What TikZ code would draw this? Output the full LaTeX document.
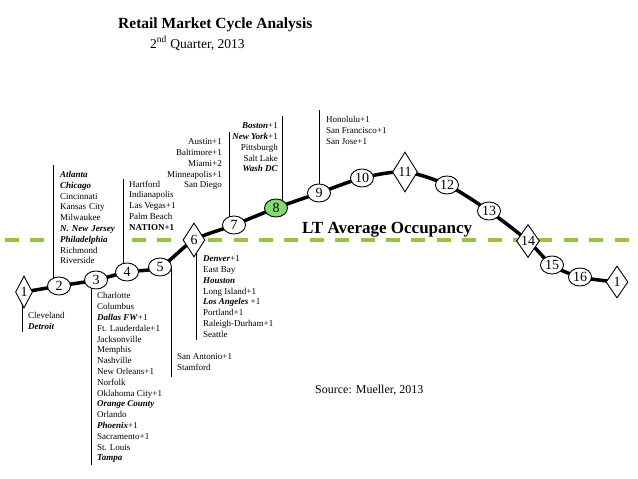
\documentclass[tikz,border=0pt]{standalone}
\usepackage{fontspec}
\setmainfont{Liberation Serif}
\usetikzlibrary{shapes.geometric,backgrounds}
\definecolor{occgreen}{RGB}{150,196,58}
\definecolor{hotgreen}{RGB}{130,218,112}
\newcommand\bicity[1]{\textbf{\textit{#1}}}
\tikzset{
  stage/.style={ellipse,draw=black,line width=0.9pt,fill=white,minimum width=23pt,minimum height=18pt,inner sep=-3pt,font=\fontsize{14}{14}\selectfont},
  turn/.style={diamond,draw=black,line width=0.9pt,fill=white,inner sep=-3pt,font=\fontsize{14}{14}\selectfont},
  city/.style={font=\fontsize{9}{10.8}\selectfont,inner sep=0pt,align=left},
  cityr/.style={font=\fontsize{9}{10.8}\selectfont,inner sep=0pt,align=right},
  leader/.style={line width=0.8pt,black},
  cycle/.style={line width=3.5pt,black},
  occline/.style={line width=4pt,occgreen,dash pattern=on 14pt off 11.4pt}
}
\begin{document}
\begin{tikzpicture}[x=1pt,y=-1pt]
\useasboundingbox (0,0) rectangle (638,479);
% titles
\node[anchor=base west,inner sep=0pt,font=\fontsize{15.5}{18}\selectfont\bfseries] (title) at (118,28.3) {Retail Market Cycle Analysis};
\node[anchor=base west,inner sep=0pt,font=\fontsize{13.5}{16}\selectfont] (quarter) at (150,48) {2\textsuperscript{nd} Quarter, 2013};
\node[anchor=base west,inner sep=0pt,font=\fontsize{17}{20}\selectfont\bfseries] (lt) at (302,233) {LT Average Occupancy};
\node[anchor=base west,inner sep=0pt,font=\fontsize{12}{14}\selectfont] (src) at (315,393) {Source: Mueller, 2013};
% city list with white box (hides the occupancy line)
\node[city,anchor=north west,fill=white,inner xsep=6pt,text width=55pt] (c2) at (54,171) {\bicity{Atlanta}\\\bicity{Chicago}\\Cincinnati\\Kansas City\\Milwaukee\\\bicity{N. New Jersey}\\\bicity{Philadelphia}\\Richmond\\Riverside};
% cycle nodes
\node[turn,minimum width=17pt,minimum height=32pt] (n1) at (24,292) {1};
\node[stage] (n2) at (59,286) {2};
\node[stage] (n3) at (96,280) {3};
\node[stage] (n4) at (127,272) {4};
\node[stage] (n5) at (160,267) {5};
\node[turn,minimum width=22pt,minimum height=34pt] (n6) at (194,240) {6};
\node[stage] (n7) at (234,225) {7};
\node[stage,fill=hotgreen] (n8) at (276,208) {8};
\node[stage] (n9) at (319,193) {9};
\node[stage] (n10) at (362,178) {10};
\node[turn,minimum width=25pt,minimum height=40pt] (n11) at (405,172) {11};
\node[stage] (n12) at (447,185) {12};
\node[stage] (n13) at (489,211) {13};
\node[turn,minimum width=23pt,minimum height=33pt] (n14) at (528,241) {14};
\node[stage] (n15) at (552,265) {15};
\node[stage] (n16) at (580,277) {16};
\node[turn,minimum width=22pt,minimum height=32pt] (n1b) at (617,282) {1};
% city lists
\node[city,anchor=north west] (c1) at (28,312.5) {Cleveland\\\bicity{Detroit}};
\node[city,anchor=north west] (c3) at (97,292.5) {Charlotte\\Columbus\\\bicity{Dallas FW}+1\\Ft. Lauderdale+1\\Jacksonville\\Memphis\\Nashville\\New Orleans+1\\Norfolk\\Oklahoma City+1\\\bicity{Orange County}\\Orlando\\\bicity{Phoenix}+1\\Sacramento+1\\St. Louis\\\bicity{Tampa}};
\node[city,anchor=north west] (c4) at (129,180.5) {Hartford\\Indianapolis\\Las Vegas+1\\Palm Beach\\\textbf{NATION+1}};
\node[city,anchor=north west] (c5) at (177,353.5) {San Antonio+1\\Stamford};
\node[city,anchor=north west] (c6) at (203,255.5) {\bicity{Denver}+1\\East Bay\\\bicity{Houston}\\Long Island+1\\\bicity{Los Angeles} +1\\Portland+1\\Raleigh-Durham+1\\Seattle};
\node[cityr,anchor=north east] (c7) at (222,138.5) {Austin+1\\Baltimore+1\\Miami+2\\Minneapolis+1\\San Diego};
\node[cityr,anchor=north east] (c8) at (278,122.5) {\bicity{Boston}+1\\\bicity{New York}+1\\Pittsburgh\\Salt Lake\\\bicity{Wash DC}};
\node[city,anchor=north west] (c9) at (326,116.5) {Honolulu+1\\San Francisco+1\\San Jose+1};
\begin{scope}[on background layer]
  \draw[occline] (5,239.5) coordinate (occL) -- (638,239.5) coordinate (occR);
  \draw[cycle] plot[smooth,tension=0.5] coordinates {(n1) (n2) (n3) (n4) (n5) (n6) (n7) (n8) (n9) (n10) (n11) (n12) (n13) (n14) (n15) (n16) (n1b)};
  \draw[leader] (22,332) coordinate (e1) -- (e1 |- n1);
  \draw[leader] (53,165) coordinate (e2) -- (e2 |- n2);
  \draw[leader] (91,465) coordinate (e3) -- (e3 |- n3);
  \draw[leader] (123,179) coordinate (e4) -- (e4 |- n4);
  \draw[leader] (171,377) coordinate (e5) -- (e5 |- n5);
  \draw[leader] (196,340) coordinate (e6) -- (e6 |- n6);
  \draw[leader] (229,132) coordinate (e7) -- (e7 |- n7);
  \draw[leader] (282,116) coordinate (e8) -- (e8 |- n8);
  \draw[leader] (319,110) coordinate (e9) -- (e9 |- n9);
\end{scope}
\end{tikzpicture}
\end{document}
